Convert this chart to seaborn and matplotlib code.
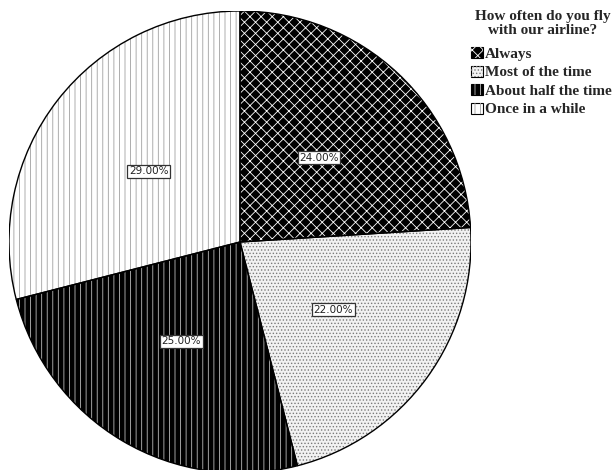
import matplotlib
matplotlib.use("Agg")
import numpy as np
import seaborn as sns
import matplotlib.pyplot as plt
from matplotlib.patches import Patch, Wedge
from matplotlib.legend_handler import HandlerTuple

sns.set_style("white")
plt.rcParams["hatch.linewidth"] = 0.6

categories = ["Always", "Most of the time", "About half the time", "Once in a while"]
shares = [24.0, 22.0, 25.0, 29.0]

faces = ["#000000", "#f2f2f2", "#000000", "#ffffff"]
hatch_cols = ["#ffffff", "#7a7a7a", "#bbbbbb", "#a0a0a0"]
hatches = ["xxx", ".....", "|||", "|||"]

fig = plt.figure(figsize=(6.14, 4.70), dpi=100)
ax = fig.add_axes([9 / 614, -3 / 470, 462 / 614, 462 / 470])

# base wedges with solid fill
wedges, _ = ax.pie(shares, startangle=90, counterclock=False, colors=faces,
                   wedgeprops=dict(edgecolor="none", linewidth=0))
# hatch overlay + outline
for w, h, hc in zip(wedges, hatches, hatch_cols):
    ax.add_patch(Wedge(w.center, w.r, w.theta1, w.theta2, facecolor="none",
                       edgecolor=hc, hatch=h, linewidth=0))
for w in wedges:
    ax.add_patch(Wedge(w.center, w.r, w.theta1, w.theta2, facecolor="none",
                       edgecolor="black", linewidth=1.0, zorder=5))

# percentage labels
for w, v in zip(wedges, shares):
    ang = np.deg2rad((w.theta1 + w.theta2) / 2)
    ax.text(0.5 * np.cos(ang), 0.5 * np.sin(ang), f"{v:.2f}%",
            ha="center", va="center", fontsize=7.5, family="DejaVu Sans",
            color="#222222", zorder=6,
            bbox=dict(boxstyle="square,pad=0.15", facecolor="white",
                      edgecolor="#333333", linewidth=0.9))

ax.set_xlim(-1, 1)
ax.set_ylim(-1, 1)
ax.set_aspect("equal")
ax.axis("off")

# legend title drawn separately so its gap matches
fig.text(543 / 614, 1 - 10 / 470, "How often do you fly\nwith our airline?",
         ha="center", va="top", family="Liberation Serif", weight="bold",
         size=11, linespacing=1.05)

handles = []
for f, h, hc in zip(faces, hatches, hatch_cols):
    p1 = Patch(facecolor=f, edgecolor="black", linewidth=0.8)
    p2 = Patch(facecolor="none", edgecolor=hc, hatch=h, linewidth=0)
    handles.append((p1, p2))

leg = fig.legend(handles, categories, loc="upper left",
                 bbox_to_anchor=(468 / 614, 1 - 44 / 470), frameon=False,
                 handler_map={tuple: HandlerTuple(ndivide=1, pad=0)},
                 prop=dict(family="Liberation Serif", weight="bold", size=11),
                 handlelength=0.75, handleheight=0.75, handletextpad=0.15,
                 labelspacing=0.3, borderaxespad=0, borderpad=0.2)

fig.savefig("out.png", dpi=100)
